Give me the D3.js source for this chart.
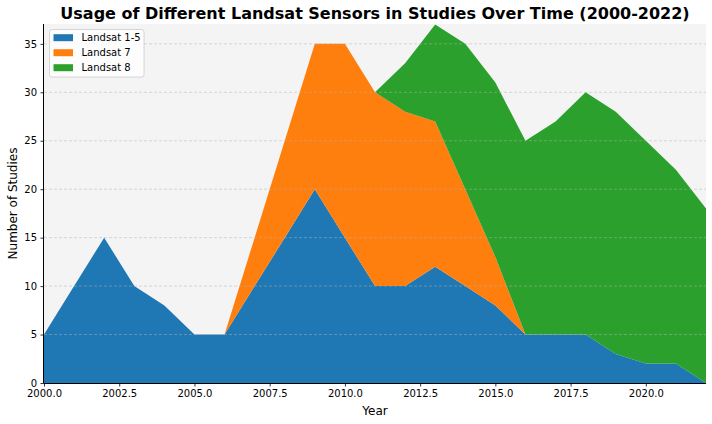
<!DOCTYPE html>
<html><head><meta charset="utf-8">
<script src="https://cdn.jsdelivr.net/npm/d3@7"></script>
<style>body{margin:0;background:#fff}svg{display:block}text{font-family:"DejaVu Sans",sans-serif}</style>
</head><body><div id="chart"></div>
<script>
const years = [2000,2001,2002,2003,2004,2005,2006,2007,2008,2009,2010,2011,2012,2013,2014,2015,2016,2017,2018,2019,2020,2021,2022];
const landsat15 = [5,10,15,10,8,5,5,10,15,20,15,10,10,12,10,8,5,5,5,3,2,2,0];
const landsat7  = [0,0,0,0,0,0,0,5,10,15,20,20,18,15,10,5,0,0,0,0,0,0,0];
const landsat8  = [0,0,0,0,0,0,0,0,0,0,0,0,5,10,15,18,20,22,25,25,23,20,18];
const seriesNames = ["Landsat 1-5","Landsat 7","Landsat 8"];
const colors = ["#1f77b4","#ff7f0e","#2ca02c"];
const xTicks = [2000,2002.5,2005,2007.5,2010,2012.5,2015,2017.5,2020];
const yTicks = [0,5,10,15,20,25,30,35];

const W=712,H=424;
const m={l:44,r:6,t:24,b:41};
const svg=d3.select("#chart").append("svg").attr("width",W).attr("height",H);
const x=d3.scaleLinear().domain([2000,2022]).range([m.l,W-m.r]);
const y=d3.scaleLinear().domain([0,37.05]).range([H-m.b,m.t]);

svg.append("rect").attr("x",m.l).attr("y",m.t).attr("width",W-m.r-m.l).attr("height",H-m.b-m.t).attr("fill","#f4f4f4");

const table=years.map((yr,i)=>({year:yr,"Landsat 1-5":landsat15[i],"Landsat 7":landsat7[i],"Landsat 8":landsat8[i]}));
const stack=d3.stack().keys(seriesNames)(table);
const area=d3.area().x(d=>x(d.data.year)).y0(d=>y(d[0])).y1(d=>y(d[1]));
svg.selectAll("path.a").data(stack).join("path").attr("class","a")
  .attr("d",area).attr("fill",(d,i)=>colors[i]);

// grid
svg.append("g").selectAll("line").data(yTicks.filter(t=>t>0)).join("line")
  .attr("x1",m.l).attr("x2",W-m.r).attr("y1",d=>y(d)).attr("y2",d=>y(d))
  .attr("stroke","#b0b0b0").attr("stroke-opacity",0.6).attr("stroke-width",0.8).attr("stroke-dasharray","3,2");

// axes
const xa=svg.append("g").attr("transform",`translate(0,${H-m.b})`)
  .call(d3.axisBottom(x).tickValues(xTicks).tickFormat(d3.format(".1f")).tickSize(3.5).tickPadding(3.5));
const ya=svg.append("g").attr("transform",`translate(${m.l},0)`)
  .call(d3.axisLeft(y).tickValues(yTicks).tickFormat(d3.format("d")).tickSize(3.5).tickPadding(3.5));
[xa,ya].forEach(g=>{
  g.select(".domain").attr("stroke","#000").attr("stroke-width",1);
  g.selectAll(".tick line").attr("stroke","#000").attr("stroke-width",0.8);
  g.selectAll(".tick text").attr("font-size",10).attr("fill","#000").attr("font-family","DejaVu Sans");
});
xa.select(".domain").attr("d",`M${m.l},0.5H${W-m.r}`);
ya.select(".domain").attr("d",`M-0.5,${m.t}V${H-m.b}`);

// title and labels
svg.append("text").attr("x",(m.l+W-m.r)/2).attr("y",19).attr("text-anchor","middle")
  .attr("font-size",16).attr("font-weight","bold").text("Usage of Different Landsat Sensors in Studies Over Time (2000-2022)");
svg.append("text").attr("x",(m.l+W-m.r)/2).attr("y",415).attr("text-anchor","middle")
  .attr("font-size",12).text("Year");
svg.append("text").attr("transform",`translate(17,${(m.t+H-m.b)/2}) rotate(-90)`).attr("text-anchor","middle")
  .attr("font-size",12).text("Number of Studies");

// legend
const lg=svg.append("g");
lg.append("rect").attr("x",49.5).attr("y",29.5).attr("width",94.5).attr("height",47.5).attr("rx",2.5)
  .attr("fill","#fff").attr("fill-opacity",0.8).attr("stroke","#ccc").attr("stroke-width",0.8);
seriesNames.forEach((n,i)=>{
  const cy=37.7+i*15;
  lg.append("rect").attr("x",53.5).attr("y",cy-3.5).attr("width",19.5).attr("height",7).attr("fill",colors[i]);
  lg.append("text").attr("x",81.5).attr("y",cy+3.6).attr("font-size",10).text(n);
});
</script></body></html>
